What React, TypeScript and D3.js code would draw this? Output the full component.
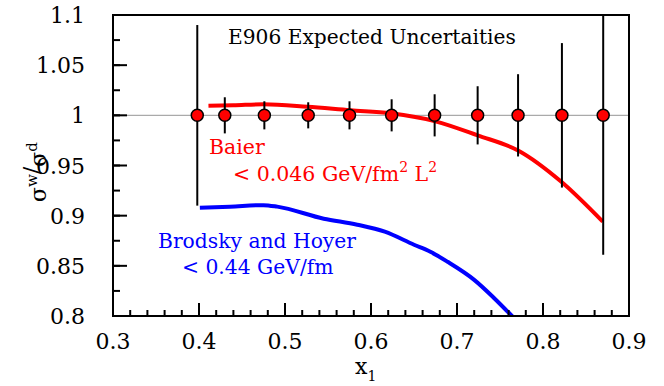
import React from "react";
import * as d3 from "d3";

const pointX = [0.398, 0.43, 0.476, 0.527, 0.575, 0.624, 0.674, 0.724, 0.771, 0.822, 0.87];
const pointY = [1, 1, 1, 1, 1, 1, 1, 1, 1, 1, 1];
const pointErr = [0.09, 0.018, 0.014, 0.013, 0.014, 0.016, 0.021, 0.029, 0.041, 0.072, 0.139];

const baierX = [0.411, 0.44, 0.475, 0.526, 0.576, 0.623, 0.675, 0.724, 0.771, 0.821, 0.8695];
const baierY = [1.0095, 1.010, 1.011, 1.0085, 1.005, 1.002, 0.994, 0.980, 0.965, 0.934, 0.894];

const brodskyX = [0.401, 0.436, 0.475, 0.491, 0.545, 0.584, 0.616, 0.650, 0.669, 0.689, 0.720, 0.743, 0.765];
const brodskyY = [0.908, 0.909, 0.9105, 0.909, 0.897, 0.891, 0.884, 0.871, 0.864, 0.854, 0.836, 0.818, 0.799];

const xTicks = [0.3, 0.4, 0.5, 0.6, 0.7, 0.8, 0.9];
const xTickLabels = ["0.3", "0.4", "0.5", "0.6", "0.7", "0.8", "0.9"];
const yTicks = [0.8, 0.85, 0.9, 0.95, 1.0, 1.05, 1.1];
const yTickLabels = ["0.8", "0.85", "0.9", "0.95", "1", "1.05", "1.1"];

const FONT = "DejaVu Serif";

export default function App() {
  const left = 113, right = 629, top = 15, bottom = 316;
  const x = d3.scaleLinear().domain([0.3, 0.9]).range([left, right]);
  const y = d3.scaleLinear().domain([0.8, 1.1]).range([bottom, top]);

  const line = d3
    .line<[number, number]>()
    .x((d) => x(d[0]))
    .y((d) => y(d[1]))
    .curve(d3.curveMonotoneX);

  const baier = line(baierX.map((v, i) => [v, baierY[i]] as [number, number])) || "";
  const brodsky = line(brodskyX.map((v, i) => [v, brodskyY[i]] as [number, number])) || "";

  const xMinor = d3.range(0.3, 0.9001, 0.02);
  const yMinor = d3.range(0.8, 1.1001, 0.025);

  return (
    <svg
      width={664}
      height={386}
      style={{ position: "absolute", left: 0, top: 0, background: "#fff" }}
    >
      <defs>
        <clipPath id="plotclip">
          <rect x={left} y={top} width={right - left} height={bottom - top} />
        </clipPath>
      </defs>

      <line x1={left} x2={right} y1={y(1)} y2={y(1)} stroke="#aaa" strokeWidth={1.2} />

      <g clipPath="url(#plotclip)">
        <path d={baier} fill="none" stroke="#ff0000" strokeWidth={4} />
        <path d={brodsky} fill="none" stroke="#0000ff" strokeWidth={4} />
        {pointX.map((px, i) => (
          <line
            key={"e" + i}
            x1={x(px)}
            x2={x(px)}
            y1={y(pointY[i] + pointErr[i])}
            y2={y(pointY[i] - pointErr[i])}
            stroke="#000"
            strokeWidth={2}
          />
        ))}
        {pointX.map((px, i) => (
          <circle
            key={"c" + i}
            cx={x(px)}
            cy={y(pointY[i])}
            r={6}
            fill="#ff0000"
            stroke="#000"
            strokeWidth={1.5}
          />
        ))}
      </g>

      <rect x={left} y={top} width={right - left} height={bottom - top} fill="none" stroke="#000" strokeWidth={2} />

      {xMinor.map((t, i) => (
        <line key={"xm" + i} x1={x(t)} x2={x(t)} y1={bottom} y2={bottom - 6} stroke="#000" strokeWidth={2} />
      ))}
      {xTicks.map((t, i) => (
        <g key={"xt" + i}>
          <line x1={x(t)} x2={x(t)} y1={bottom} y2={bottom - 13} stroke="#000" strokeWidth={2} />
          <text x={x(t)} y={349} textAnchor="middle" fontSize={22} fontFamily={FONT} fill="#000">
            {xTickLabels[i]}
          </text>
        </g>
      ))}

      {yMinor.map((t, i) => (
        <line key={"ym" + i} x1={left} x2={left + 7} y1={y(t)} y2={y(t)} stroke="#000" strokeWidth={2} />
      ))}
      {yTicks.map((t, i) => (
        <g key={"yt" + i}>
          <line x1={left} x2={left + 14} y1={y(t)} y2={y(t)} stroke="#000" strokeWidth={2} />
          <text x={85} y={y(t) + 8} textAnchor="end" fontSize={22} fontFamily={FONT} fill="#000">
            {yTickLabels[i]}
          </text>
        </g>
      ))}

      <text x={228} y={44} fontSize={20.2} fontFamily={FONT} fill="#000">
        E906 Expected Uncertaities
      </text>

      <text x={209} y={154} fontSize={20.5} fontFamily={FONT} fill="#ff0000">
        Baier
      </text>
      <text x={233} y={181} fontSize={20.5} fontFamily={FONT} fill="#ff0000">
        {"< 0.046 GeV/fm"}
        <tspan fontSize={14} dy={-9}>2</tspan>
        <tspan dy={9}>{" L"}</tspan>
        <tspan fontSize={14} dy={-9}>2</tspan>
      </text>

      <text x={158} y={248} fontSize={20.3} fontFamily={FONT} fill="#0000ff">
        Brodsky and Hoyer
      </text>
      <text x={182} y={274} fontSize={20.3} fontFamily={FONT} fill="#0000ff">
        {"< 0.44 GeV/fm"}
      </text>

      <text transform="translate(46,202) rotate(-90)" fontSize={22} fontFamily={FONT} fill="#000">
        σ
        <tspan fontSize={15} dy={-9}>w</tspan>
        <tspan fontSize={22} dy={2}>/</tspan>
        <tspan fontSize={22} dy={7}>σ</tspan>
        <tspan fontSize={15} dy={-9}>d</tspan>
      </text>

      <text x={355} y={374} fontSize={22} fontFamily={FONT} fill="#000">
        x<tspan fontSize={14} dy={7}>1</tspan>
      </text>
    </svg>
  );
}
